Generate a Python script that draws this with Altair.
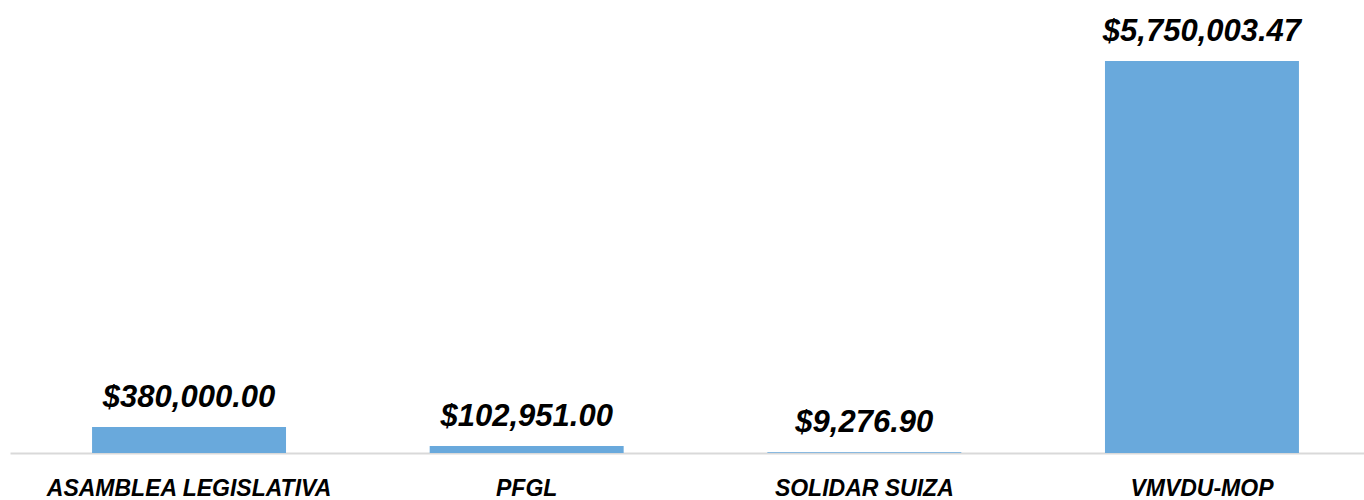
import altair as alt
import pandas as pd

categories = ["ASAMBLEA LEGISLATIVA", "PFGL", "SOLIDAR SUIZA", "VMVDU-MOP"]
values = [380000.00, 102951.00, 9276.90, 5750003.47]
labels = ["$380,000.00", "$102,951.00", "$9,276.90", "$5,750,003.47"]

df = pd.DataFrame({"cat": categories, "val": values, "lab": labels})

FONT = "Liberation Sans"

x = alt.X(
    "cat:N",
    sort=categories,
    title=None,
    scale=alt.Scale(range=[0, 1371], paddingInner=0.4255, paddingOuter=0.243),
    axis=alt.Axis(
        labelAngle=0,
        labelFont=FONT,
        labelFontSize=23,
        labelFontWeight="bold",
        labelFontStyle="italic",
        labelColor="#000000",
        labelPadding=24,
        labelLimit=0,
        ticks=False,
        domainColor="#D9D9D9",
        domainWidth=2,
        grid=False,
    ),
)
y = alt.Y(
    "val:Q",
    title=None,
    scale=alt.Scale(domain=[0, 6644646], nice=False),
    axis=None,
)

bars = alt.Chart(df).mark_bar(color="#69A9DC").encode(x=x, y=y)
text = alt.Chart(df).mark_text(
    font=FONT,
    fontSize=31,
    fontWeight="bold",
    fontStyle="italic",
    color="#000000",
    baseline="alphabetic",
    dy=-20,
).encode(x=x, y=y, text="lab:N")

chart = (
    alt.layer(bars, text)
    .properties(
        width=1354,
        height=453,
        background="#ffffff",
        padding={"left": 10, "right": 0, "top": 0, "bottom": 47},
        autosize=alt.AutoSizeParams(type="none"),
    )
    .configure_view(strokeWidth=0)
)

chart.save("out.html", embed_options={"renderer": "svg", "actions": False})
